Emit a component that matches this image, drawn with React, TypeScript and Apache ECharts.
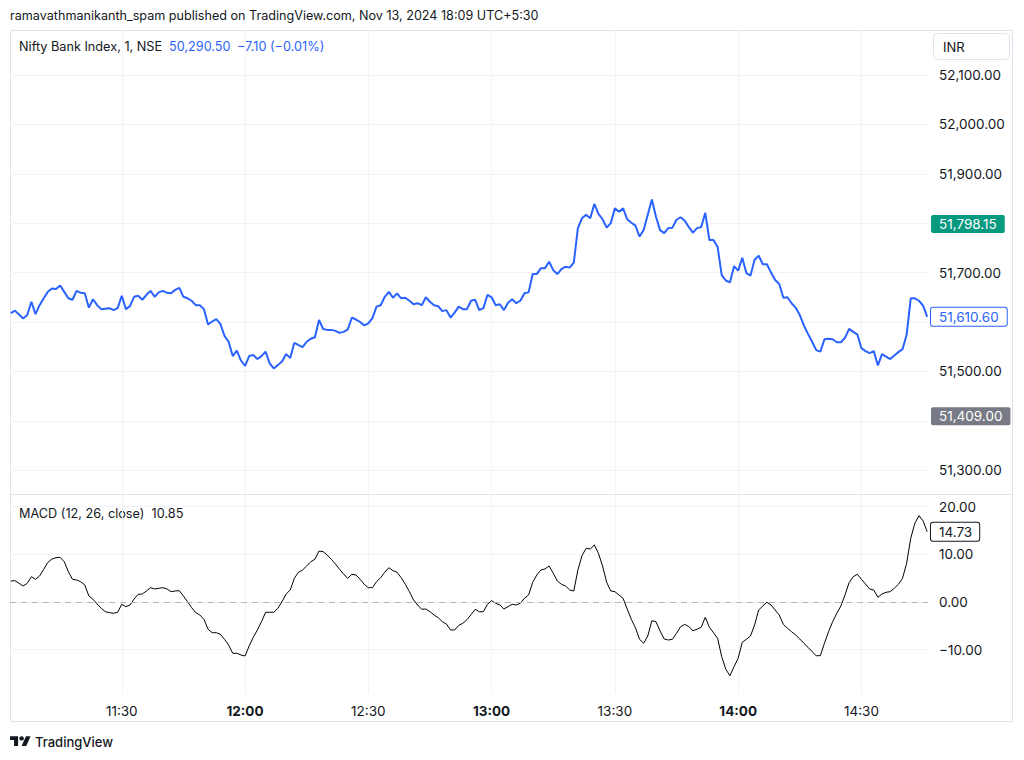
import React, { useEffect, useRef } from "react";
import * as echarts from "echarts";

// ---- data ----
const START_MINUTE = 11 * 60 + 3; // first bar at 11:03, one bar per minute
const PRICES = [
  51618, 51623, 51615, 51607, 51614, 51641, 51616, 51634, 51648, 51661,
  51668, 51667, 51674, 51661, 51648, 51645, 51663, 51659, 51658, 51629,
  51646, 51634, 51626, 51627, 51628, 51624, 51628, 51653, 51626, 51632,
  51651, 51653, 51645, 51655, 51663, 51651, 51660, 51663, 51659, 51658,
  51665, 51669, 51651, 51648, 51643, 51634, 51634, 51626, 51595, 51601,
  51606, 51596, 51572, 51560, 51531, 51542, 51522, 51511, 51531, 51533,
  51525, 51531, 51540, 51516, 51506, 51513, 51520, 51535, 51527, 51558,
  51553, 51549, 51560, 51566, 51569, 51604, 51586, 51584, 51584, 51582,
  51578, 51580, 51585, 51609, 51605, 51600, 51593, 51597, 51608, 51631,
  51634, 51651, 51661, 51649, 51658, 51648, 51649, 51643, 51636, 51638,
  51634, 51650, 51641, 51634, 51632, 51622, 51624, 51609, 51619, 51631,
  51626, 51626, 51643, 51645, 51624, 51628, 51655, 51650, 51634, 51636,
  51624, 51639, 51646, 51638, 51643, 51658, 51660, 51697, 51697, 51709,
  51709, 51722, 51705, 51697, 51707, 51712, 51710, 51720, 51790, 51810,
  51817, 51810, 51839, 51819, 51808, 51791, 51800, 51830, 51823, 51830,
  51808, 51801, 51795, 51773, 51786, 51817, 51848, 51813, 51786, 51780,
  51790, 51791, 51807, 51812, 51805, 51792, 51781, 51790, 51792, 51821,
  51766, 51766, 51752, 51695, 51684, 51680, 51713, 51704, 51730, 51699,
  51694, 51726, 51734, 51717, 51717, 51700, 51685, 51677, 51649, 51650,
  51638, 51629, 51614, 51593, 51576, 51560, 51543, 51540, 51565, 51566,
  51565, 51559, 51559, 51568, 51586, 51580, 51575, 51547, 51541, 51537,
  51541, 51512, 51535, 51530, 51525, 51532, 51539, 51545, 51574, 51648,
  51648, 51643, 51633, 51610.6,
];
const MACD = [
  4.4, 4.47, 3.92, 3.35, 3.92, 5.3, 4.76, 5.45, 6.86, 8.3,
  9.0, 9.3, 9.37, 8.45, 6.35, 4.76, 4.61, 4.26, 3.56, 1.26,
  0.57, -0.42, -1.32, -2.03, -2.24, -2.37, -2.16, -0.48, -0.98, -0.63,
  0.63, 1.61, 1.68, 2.31, 3.0, 2.73, 2.87, 3.0, 2.73, 2.16,
  2.31, 2.37, 1.26, 0.06, -1.19, -2.24, -2.73, -3.63, -5.72, -6.44,
  -6.44, -6.77, -7.82, -9.01, -10.75, -10.75, -11.11, -11.32, -9.22, -7.4,
  -5.87, -4.13, -2.16, -2.16, -2.16, -1.32, 0.06, 1.68, 2.52, 4.97,
  6.23, 6.71, 7.55, 8.45, 8.95, 10.69, 10.55, 9.85, 8.95, 7.97,
  6.86, 5.81, 4.97, 5.81, 5.66, 4.76, 3.71, 3.0, 3.0, 4.26,
  5.09, 6.23, 7.19, 6.56, 6.23, 5.09, 3.71, 2.16, 0.42, -0.63,
  -1.53, -1.47, -2.03, -2.73, -3.29, -4.13, -4.61, -5.87, -5.87, -4.9,
  -4.47, -3.7, -2.66, -1.53, -2.03, -2.03, -0.48, 0.27, -0.27, -0.63,
  -1.47, -0.98, -0.48, -0.63, -0.27, 0.78, 1.47, 4.13, 5.66, 6.71,
  6.92, 7.55, 6.02, 4.4, 3.71, 3.35, 2.52, 2.31, 6.71, 9.71,
  11.26, 11.11, 11.95, 10.21, 7.55, 4.13, 2.31, 2.16, 1.47, 0.78,
  -1.47, -3.63, -5.39, -7.82, -8.66, -7.13, -3.92, -4.13, -6.08, -7.76,
  -7.97, -7.82, -6.56, -5.18, -4.68, -5.18, -6.02, -5.72, -5.3, -3.21,
  -5.3, -6.44, -7.61, -11.47, -14.11, -15.45, -13.56, -11.8, -8.45, -7.82,
  -7.13, -4.82, -1.68, -0.84, -0.06, -0.63, -1.68, -2.73, -4.68, -5.51,
  -6.23, -6.92, -7.76, -8.66, -9.5, -10.42, -11.26, -11.26, -8.66, -6.23,
  -4.13, -2.37, -0.84, 1.47, 4.05, 5.3, 5.81, 4.76, 3.77, 2.73,
  2.52, 0.99, 1.68, 2.03, 2.16, 2.87, 3.71, 4.97, 8.11, 13.35,
  16.5, 18.1, 17.0, 14.73,
];
const TIME_TICKS = [690, 720, 750, 780, 810, 840, 870]; // 11:30 ... 14:30
const PRICE_GRID = [51300, 51400, 51500, 51600, 51700, 51800, 51900, 52000, 52100];
const PRICE_LABELS = [51300, 51500, 51700, 51900, 52000, 52100];
const MACD_TICKS = [-10, 0, 10, 20];
const LAST_PRICE = 51610.6;
const HIGH_MARK = 51798.15;
const LOW_MARK = 51409.0;
const LAST_MACD = 14.73;

const HEADER = "ramavathmanikanth_spam published on TradingView.com, Nov 13, 2024 18:09 UTC+5:30";
const SYMBOL = "Nifty Bank Index, 1, NSE";
const QUOTE = "50,290.50";
const CHANGE = "\u22127.10 (\u22120.01%)";
const MACD_TITLE = "MACD (12, 26, close)";
const MACD_VALUE = "10.85";

const FONT = "Inter, 'Noto Sans', sans-serif";
const TEXT = "#131722";
const GRID = "#f0f3fa";
const BORDER = "#e0e3eb";
const AXIS_FS = 13.5;

const fmtPrice = (v: number) =>
  v.toLocaleString("en-US", { minimumFractionDigits: 2, maximumFractionDigits: 2 });
const fmtMacd = (v: number) => v.toFixed(2).replace("-", "\u2212");
const fmtTime = (m: number) => {
  const h = Math.floor(m / 60);
  const mm = Math.round(m - h * 60);
  return `${h}:${mm < 10 ? "0" + mm : mm}`;
};

const LOGO =
  "M14 22H7V11H0V4h14v18ZM28 22h-8l7.5-18h8L28 22ZM24 8a4 4 0 1 1-8 0a4 4 0 1 1 8 0Z";

export default function App() {
  const ref = useRef<HTMLDivElement>(null);
  useEffect(() => {
    if (!ref.current) return;
    try {
      echarts.graphic.registerShape("tvlogo", echarts.graphic.extendPath(LOGO, {}) as any);
    } catch (e) {}
    const chart = echarts.init(ref.current, undefined, { renderer: "svg" });

    const priceData = PRICES.map((p, i) => [START_MINUTE + i, p]);
    const macdData = MACD.map((v, i) => [START_MINUTE + i, v]);

    const xMin = 662.8;
    const xMax = 886.2;

    const boxLabel = (bg: string, fg: string, border?: string) => ({
      show: true,
      position: "end",
      distance: 3,
      backgroundColor: bg,
      color: fg,
      borderColor: border || bg,
      borderWidth: border ? 1 : 0,
      borderRadius: 2,
      padding: [2, 8, 2, 8],
      fontSize: AXIS_FS,
      lineHeight: 14,
      fontFamily: FONT,
    });

    const option: any = {
      animation: false,
      textStyle: { fontFamily: FONT },
      grid: [
        { left: 10, right: 96, top: 31, height: 463 },
        { left: 10, right: 96, top: 494, height: 199 },
      ],
      xAxis: [
        {
          type: "value",
          gridIndex: 0,
          min: xMin,
          max: xMax,
          axisLine: { show: false },
          axisTick: { show: false, customValues: TIME_TICKS },
          axisLabel: { show: false, customValues: TIME_TICKS },
          splitLine: { show: true, lineStyle: { color: GRID, width: 1 } },
        },
        {
          type: "value",
          gridIndex: 1,
          min: xMin,
          max: xMax,
          axisLine: { show: false },
          axisTick: { show: false, customValues: TIME_TICKS },
          axisLabel: {
            show: true,
            customValues: TIME_TICKS,
            margin: 11,
            fontSize: AXIS_FS,
            color: TEXT,
            formatter: (v: number) => {
              const t = fmtTime(v);
              return v % 60 === 0 ? `{b|${t}}` : `{n|${t}}`;
            },
            rich: {
              b: { fontWeight: "bold", fontSize: AXIS_FS, color: TEXT, fontFamily: FONT },
              n: { fontSize: AXIS_FS, color: TEXT, fontFamily: FONT },
            },
          },
          splitLine: { show: true, lineStyle: { color: GRID, width: 1 } },
        },
      ],
      yAxis: [
        {
          type: "value",
          gridIndex: 0,
          position: "right",
          min: 51251.8,
          max: 52189.05,
          axisLine: { show: false },
          axisTick: { show: false, customValues: PRICE_GRID },
          axisLabel: {
            customValues: PRICE_LABELS,
            margin: 11,
            fontSize: AXIS_FS,
            color: TEXT,
            formatter: (v: number) => fmtPrice(v),
          },
          splitLine: { show: true, lineStyle: { color: GRID, width: 1 } },
        },
        {
          type: "value",
          gridIndex: 1,
          position: "right",
          min: -19.08,
          max: 22.64,
          axisLine: { show: false },
          axisTick: { show: false, customValues: MACD_TICKS },
          axisLabel: {
            customValues: MACD_TICKS,
            margin: 11,
            fontSize: AXIS_FS,
            color: TEXT,
            formatter: (v: number) => fmtMacd(v),
          },
          splitLine: { show: true, lineStyle: { color: GRID, width: 1 } },
        },
      ],
      series: [
        {
          type: "line",
          xAxisIndex: 0,
          yAxisIndex: 0,
          data: priceData,
          showSymbol: false,
          symbol: "none",
          lineStyle: { color: "#2962ff", width: 2 },
          silent: true,
          z: 3,
          markLine: {
            silent: true,
            symbol: "none",
            animation: false,
            lineStyle: { color: "transparent", width: 0 },
            data: [
              { yAxis: HIGH_MARK, label: { ...boxLabel("#089981", "#ffffff"), formatter: fmtPrice(HIGH_MARK) } },
              { yAxis: LAST_PRICE, label: { ...boxLabel("#ffffff", "#2962ff", "#2962ff"), formatter: fmtPrice(LAST_PRICE) } },
              { yAxis: LOW_MARK, label: { ...boxLabel("#787b86", "#ffffff"), formatter: fmtPrice(LOW_MARK) } },
            ],
          },
        },
        {
          type: "line",
          xAxisIndex: 1,
          yAxisIndex: 1,
          data: macdData,
          showSymbol: false,
          symbol: "none",
          lineStyle: { color: "#000000", width: 1 },
          silent: true,
          z: 3,
          markLine: {
            silent: true,
            symbol: "none",
            animation: false,
            data: [
              {
                yAxis: 0,
                lineStyle: { color: "#b2b5be", width: 1, type: [6, 5] },
                label: { show: false },
              },
              {
                yAxis: LAST_MACD,
                lineStyle: { color: "transparent", width: 0 },
                label: { ...boxLabel("#ffffff", TEXT, "#131722"), padding: [2, 7, 2, 8], formatter: fmtMacd(LAST_MACD) },
              },
            ],
          },
        },
      ],
      graphic: [
        {
          type: "rect",
          silent: true,
          z: 0,
          shape: { x: 10.5, y: 30.5, width: 1002, height: 691 },
          style: { fill: "none", stroke: BORDER, lineWidth: 1 },
        },
        {
          type: "line",
          silent: true,
          z: 10,
          shape: { x1: 10, y1: 494.5, x2: 1013, y2: 494.5 },
          style: { stroke: BORDER, lineWidth: 1 },
        },
        {
          type: "text",
          x: 10,
          y: 15,
          style: { text: HEADER, fill: TEXT, font: `12.6px ${FONT}`, textVerticalAlign: "middle" },
        },
        {
          type: "text",
          x: 19,
          y: 46,
          style: { text: SYMBOL, fill: TEXT, font: `12.7px ${FONT}`, textVerticalAlign: "middle" },
        },
        {
          type: "text",
          x: 169,
          y: 46,
          style: { text: QUOTE, fill: "#2962ff", font: `12.7px ${FONT}`, textVerticalAlign: "middle" },
        },
        {
          type: "text",
          x: 237,
          y: 46,
          style: { text: CHANGE, fill: "#2962ff", font: `12.7px ${FONT}`, textVerticalAlign: "middle" },
        },
        {
          type: "rect",
          z: 10,
          shape: { x: 933.5, y: 33.5, width: 76, height: 26, r: 4 },
          style: { fill: "#ffffff", stroke: BORDER, lineWidth: 1 },
        },
        {
          type: "text",
          z: 11,
          x: 943,
          y: 46.5,
          style: { text: "INR", fill: TEXT, font: `13px ${FONT}`, textVerticalAlign: "middle" },
        },
        {
          type: "text",
          x: 19,
          y: 513,
          style: { text: `${MACD_TITLE}  ${MACD_VALUE}`, fill: TEXT, font: `12.7px ${FONT}`, textVerticalAlign: "middle" },
        },
        {
          type: "tvlogo",
          x: 10,
          y: 734,
          scaleX: 0.58,
          scaleY: 0.55,
          style: { fill: TEXT },
        },
        {
          type: "text",
          x: 35,
          y: 742,
          style: { text: "TradingView", fill: TEXT, font: `500 13px ${FONT}`, textVerticalAlign: "middle" },
        },
      ],
    };
    chart.setOption(option);
    return () => chart.dispose();
  }, []);

  return (
    <div
      ref={ref}
      style={{ position: "absolute", left: 0, top: 0, width: 1024, height: 760, background: "#ffffff" }}
    />
  );
}
